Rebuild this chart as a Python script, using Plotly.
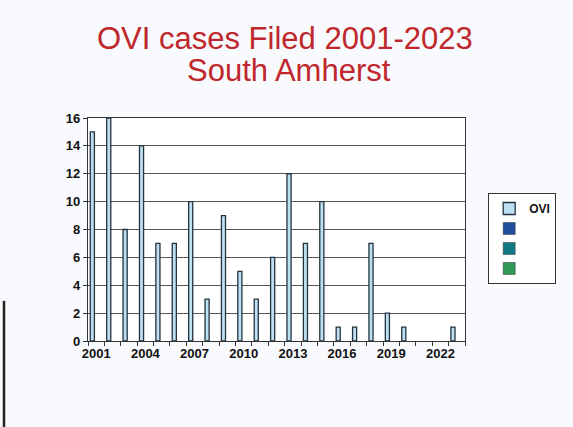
import plotly.graph_objects as go

years = list(range(2001, 2024))
ovi_cases = [15, 16, 8, 14, 7, 7, 10, 3, 9, 5, 3, 6, 12, 7, 10, 1, 1, 7, 2, 1, 0, 0, 1]
tick_years = [2001, 2004, 2007, 2010, 2013, 2016, 2019, 2022]
y_ticks = list(range(0, 17, 2))
title_lines = ["OVI cases Filed 2001-2023", "South Amherst"]

FONT = "Liberation Sans, Arial, sans-serif"
TITLE_FONT = dict(size=31, color="#c0262b", family=FONT)

fig = go.Figure()
fig.add_trace(go.Bar(
    x=years, y=[v if v else None for v in ovi_cases], name="OVI",
    width=0.25, offset=-0.36,
    marker=dict(color="#bfe0f2", line=dict(color="#24343f", width=1.3)),
    legendgroup="a",
))
for i, c in enumerate(["#1f4e9c", "#127a86", "#2f9a58"]):
    fig.add_trace(go.Bar(
        x=[None], y=[None], name=" ",
        marker=dict(color=c, line=dict(color="#333", width=0.5)),
        legendgroup="g%d" % i,
    ))

fig.update_layout(
    width=573, height=427,
    margin=dict(l=88, r=108, t=118, b=86),
    paper_bgcolor="#f8fafd",
    plot_bgcolor="#ffffff",
    barmode="overlay",
    font=dict(family=FONT, color="#111"),
    legend=dict(
        xref="container", yref="container",
        x=0.852, y=0.548, xanchor="left", yanchor="top",
        bgcolor="#ffffff", bordercolor="#333", borderwidth=1,
        font=dict(size=12, color="#111", family=FONT, weight="bold"),
        itemwidth=30, traceorder="grouped", tracegroupgap=1,
    ),
    xaxis=dict(
        range=[2000.5, 2023.5],
        tickvals=tick_years, ticktext=[str(t) for t in tick_years],
        ticks="", showgrid=False,
        showline=True, linecolor="#333", linewidth=1.3, mirror=True,
        tickfont=dict(size=13, weight="bold", color="#111"),
        minor=dict(tick0=2000.5, dtick=1, ticks="outside", ticklen=4, tickcolor="#333", showgrid=False),
        zeroline=False,
    ),
    yaxis=dict(
        range=[0, 16], tickvals=y_ticks,
        ticks="outside", ticklen=4, tickcolor="#333",
        showgrid=True, gridcolor="#555", gridwidth=1,
        showline=True, linecolor="#333", linewidth=1.3, mirror=True,
        tickfont=dict(size=13, weight="bold", color="#111"),
        zeroline=False,
    ),
    annotations=[
        dict(text=title_lines[0], xref="paper", yref="paper", x=0.5225, y=1.3587,
             xanchor="center", yanchor="middle", showarrow=False, font=TITLE_FONT),
        dict(text=title_lines[1], xref="paper", yref="paper", x=0.533, y=1.2152,
             xanchor="center", yanchor="middle", showarrow=False, font=TITLE_FONT),
    ],
    shapes=[dict(type="line", xref="paper", yref="paper",
                 x0=-0.2228, x1=-0.2228, y0=0.18, y1=-0.39,
                 line=dict(color="#222", width=2.5))],
)

fig.write_html("out.html", config={"displayModeBar": False},
               post_script="document.body.style.margin='0';")
